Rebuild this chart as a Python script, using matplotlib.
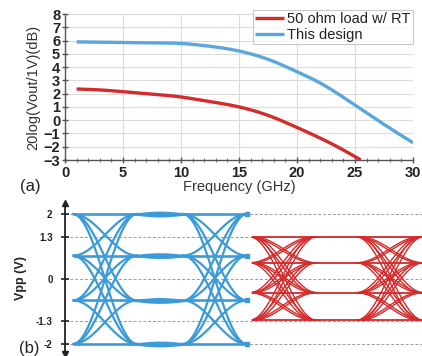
import numpy as np
import matplotlib
matplotlib.use("Agg")
import matplotlib.pyplot as plt

plt.rcParams['font.family'] = ['Liberation Sans', 'DejaVu Sans']

# ---- (a) frequency response data ----
freq_rt = [1, 3, 5, 7, 10, 12, 14, 16, 18, 20, 22, 24, 25.5]
gain_rt = [2.35, 2.28, 2.15, 2.0, 1.75, 1.47, 1.18, 0.78, 0.2, -0.55, -1.35, -2.25, -3.0]
freq_new = [1, 3, 5, 7, 10, 12, 14, 16, 18, 20, 22, 24, 26, 28, 30]
gain_new = [5.9, 5.88, 5.85, 5.83, 5.78, 5.62, 5.38, 5.0, 4.42, 3.65, 2.8, 1.72, 0.55, -0.6, -1.7]
series_labels = ["50 ohm load w/ RT", "This design"]
c_red = '#d42b2b'
c_blue = '#5ba6dc'

# ---- (b) eye diagram data (PAM4 levels, V) ----
blue_levels = [2.0, 0.72, -0.66, -2.0]
red_levels = [1.3, 0.5, -0.42, -1.27]
vpp_ticks = [2, 1.3, 0, -1.3, -2]
vpp_labels = ["2", "1.3", "0", "-1.3", "-2"]
# time positions (arbitrary units 0..100 across panel)
blue_span = (2.2, 51.0)
blue_cross = [11.2, 42.0]
red_span = (52.4, 100.5)
red_cross = [61.1, 91.0]
half_w = 9.0


def spline(x, y, n=300):
    """Natural cubic spline through the points, for smooth drawing."""
    x = np.asarray(x, float)
    y = np.asarray(y, float)
    k = len(x)
    h = np.diff(x)
    A = np.zeros((k, k))
    r = np.zeros(k)
    A[0, 0] = A[-1, -1] = 1
    for i in range(1, k - 1):
        A[i, i - 1] = h[i - 1]
        A[i, i] = 2 * (h[i - 1] + h[i])
        A[i, i + 1] = h[i]
        r[i] = 6 * ((y[i + 1] - y[i]) / h[i] - (y[i] - y[i - 1]) / h[i - 1])
    M = np.linalg.solve(A, r)
    xs = np.linspace(x[0], x[-1], n)
    idx = np.clip(np.searchsorted(x, xs) - 1, 0, k - 2)
    x0, x1 = x[idx], x[idx + 1]
    hh = x1 - x0
    a = (x1 - xs) / hh
    b = (xs - x0) / hh
    ys = a * y[idx] + b * y[idx + 1] + ((a ** 3 - a) * M[idx] + (b ** 3 - b) * M[idx + 1]) * hh ** 2 / 6
    return xs, ys


W, H = 422, 356
fig = plt.figure(figsize=(W / 100, H / 100), dpi=100)

# ---------------- panel (a) ----------------
ax = fig.add_axes([65 / W, 1 - 160 / H, (413 - 65) / W, (160 - 14) / H])
xs, ys = spline(freq_rt, gain_rt)
ax.plot(xs, ys, color=c_red, lw=2.4, label=series_labels[0], solid_capstyle='butt')
xs, ys = spline(freq_new, gain_new)
ax.plot(xs, ys, color=c_blue, lw=2.4, label=series_labels[1], solid_capstyle='butt')
ax.set_xlim(0, 30)
ax.set_ylim(-3, 8)
ax.set_xticks(range(0, 31, 5))
ax.set_xticks(range(0, 31, 1), minor=True)
ax.set_yticks(range(-3, 9))
ax.grid(True, which='major', color='#dcdcdc', lw=0.8)
for sp in ['top', 'right']:
    ax.spines[sp].set_visible(False)
for sp in ['left', 'bottom']:
    ax.spines[sp].set_color('#555555')
    ax.spines[sp].set_linewidth(1.0)
ax.tick_params(axis='both', which='major', direction='inout', length=5, width=1, colors='#555555',
               labelcolor='#222222', labelsize=10.5)
ax.tick_params(axis='x', which='minor', direction='inout', length=3, width=0.8, colors='#777777')
ax.tick_params(axis='y', pad=1)
ax.tick_params(axis='x', pad=2)
for lab in ax.get_xticklabels() + ax.get_yticklabels():
    lab.set_fontweight('bold')
ax.set_xlabel("Frequency (GHz)", fontsize=10.5, color='#333333', labelpad=0)
ax.set_ylabel("20log(Vout/1V)(dB)", fontsize=10.5, color='#333333', labelpad=2)
leg = ax.legend(loc='upper left', bbox_to_anchor=((253 - 65) / (413 - 65), 1.03),
                fontsize=10.5, frameon=True, fancybox=False, handlelength=2.0,
                handletextpad=0.2, borderpad=0.15, labelspacing=0.15, borderaxespad=0)
leg.get_frame().set_edgecolor('#bbbbbb')
leg.get_frame().set_linewidth(0.8)
for t in leg.get_texts():
    t.set_color('#222222')

fig.text(30 / W, 1 - 187 / H, "(a)", fontsize=12, ha='center', va='center', color='#222222')
fig.text(29 / W, 1 - 349 / H, "(b)", fontsize=12, ha='center', va='center', color='#222222')

# ---------------- panel (b) ----------------
y0, y1 = -2.3, 2.35
bx = fig.add_axes([65 / W, 1 - 353.75 / H, (W - 65) / W, 151.1 / H])
bx.set_xlim(0, 100)
bx.set_ylim(y0, y1)
for v in vpp_ticks:
    bx.axhline(v, color='#9a9a9a', lw=0.7, ls=(0, (3, 2)), zorder=0)


def draw_eye(levels, span, crosses, color, lw, bulge, jit):
    s, e = span
    for lv in levels:
        bx.plot([s, e], [lv, lv], color=color, lw=lw + 0.3, solid_capstyle='butt', zorder=2)
    for c in crosses:
        for i, a in enumerate(levels):
            for j, b in enumerate(levels):
                if a == b:
                    continue
                for d in jit:
                    t0 = c - half_w + d
                    t = np.linspace(t0, t0 + 2 * half_w, 80)
                    f = 0.5 - 0.5 * np.cos(np.pi * (t - t0) / (2 * half_w))
                    y = a + (b - a) * f
                    m = (t >= s) & (t <= e)
                    bx.plot(t[m], y[m], color=color, lw=lw, zorder=2)
    if bulge:
        mid = 0.5 * (crosses[0] + crosses[1])
        hw = 0.5 * (crosses[1] - crosses[0]) - 3
        t = np.linspace(mid - hw, mid + hw, 100)
        amp = bulge * np.sin(np.pi * (t - t[0]) / (t[-1] - t[0])) ** 2
        for lv in levels:
            bx.fill_between(t, lv - amp, lv + amp, color=color, lw=0, zorder=2)


draw_eye(blue_levels, blue_span, blue_cross, '#3b9ad8', 1.6, 0.09, [0.0])
draw_eye(red_levels, red_span, red_cross, '#d42a2a', 1.0, 0.0, [-0.5, 0.5])
bx.plot([blue_span[1]] * len(blue_levels), blue_levels, 's', color='#3b9ad8', ms=2.5, zorder=3)

for sp in ['top', 'right', 'bottom']:
    bx.spines[sp].set_visible(False)
bx.spines['left'].set_color('#222222')
bx.spines['left'].set_linewidth(1.3)
bx.set_xticks([])
bx.set_yticks(vpp_ticks)
bx.set_yticklabels(vpp_labels)
bx.tick_params(axis='y', direction='inout', length=6, width=1.2, colors='#222222',
               labelsize=7, pad=6)
for lab in bx.get_yticklabels():
    lab.set_fontweight('bold')
bx.plot([0], [y1], marker='^', color='#222222', ms=4.5, clip_on=False,
        transform=bx.get_yaxis_transform(), zorder=5)
bx.plot([0], [y0], marker='v', color='#222222', ms=4.5, clip_on=False,
        transform=bx.get_yaxis_transform(), zorder=5)
bx.set_ylabel("Vpp (V)", fontsize=9, fontweight='bold', color='#222222', labelpad=6)

fig.savefig("out.png", dpi=100)
